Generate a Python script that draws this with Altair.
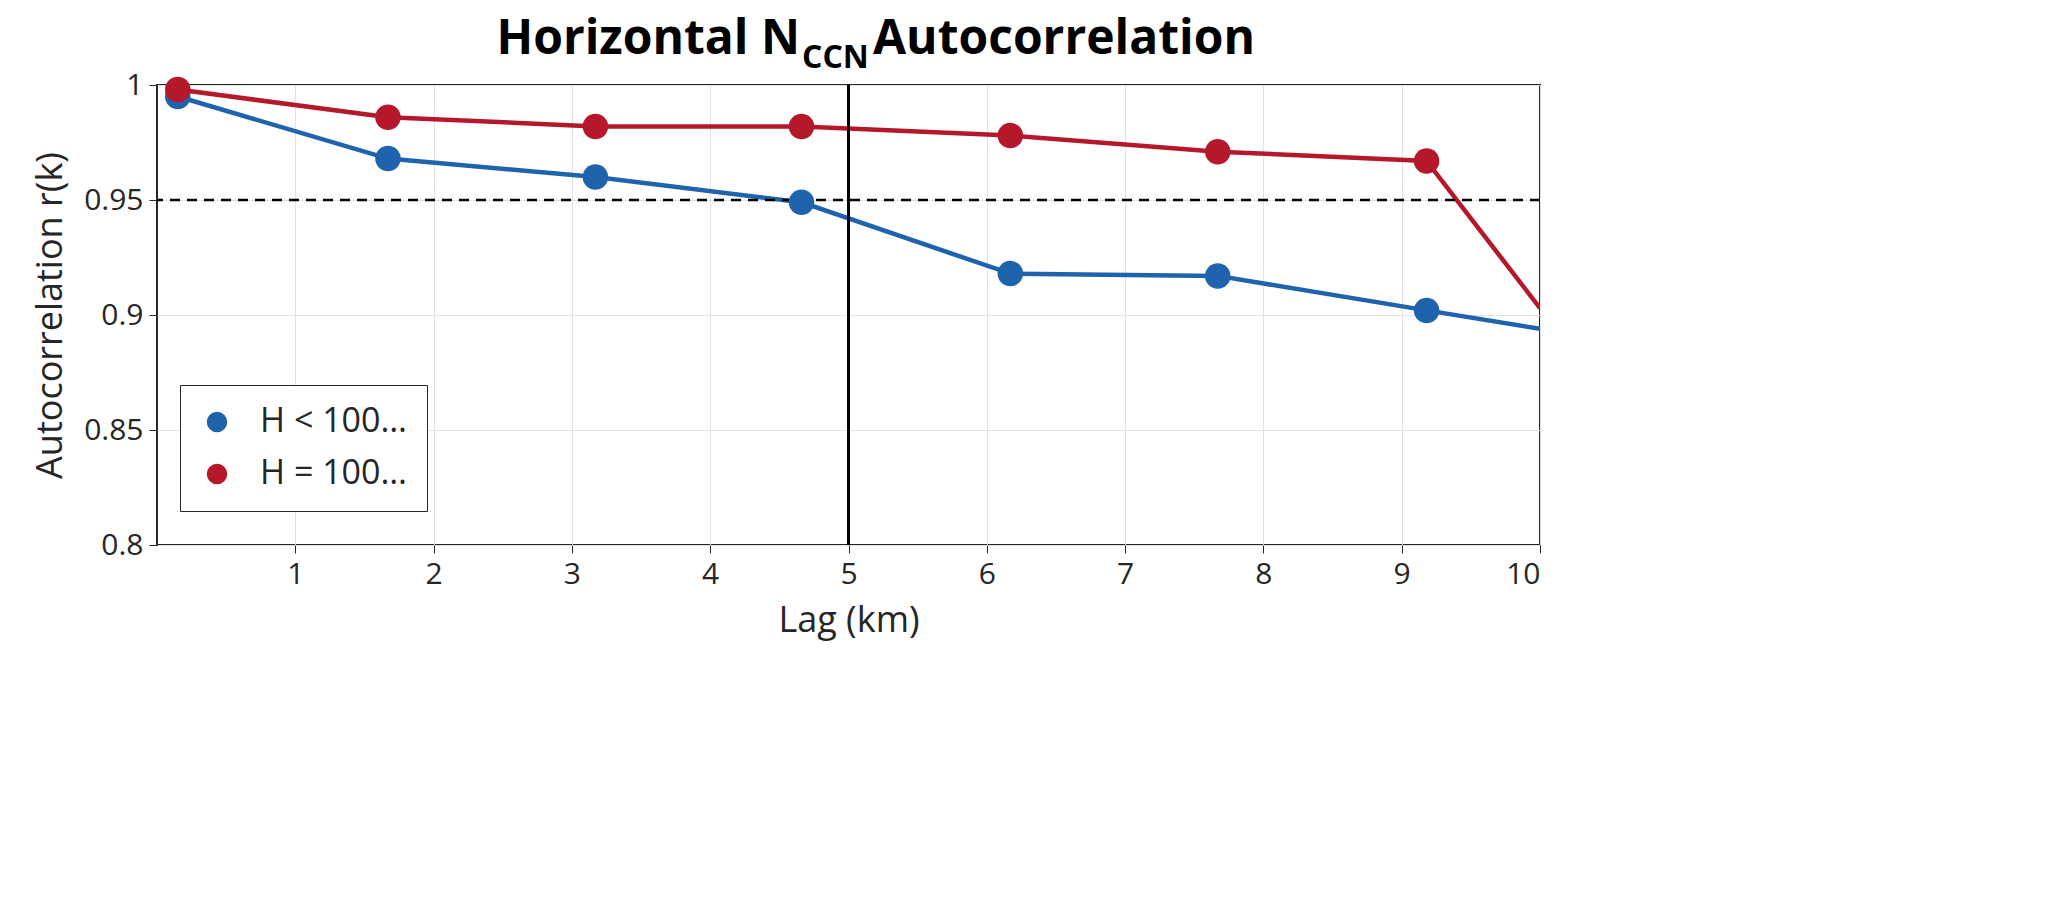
import altair as alt
import pandas as pd

lag_pts = [0.15, 1.67, 3.17, 4.66, 6.17, 7.67, 9.18]
blue_pts = [0.995, 0.968, 0.960, 0.949, 0.918, 0.917, 0.902]
red_pts = [0.998, 0.986, 0.982, 0.982, 0.978, 0.971, 0.967]
blue_end = 0.894
red_end = 0.903

names = ["H < 1000 m", "H = 1000-2000 m"]
colors = ["#1f63ad", "#b5182b"]

rows = []
for name, vals, end in [(names[0], blue_pts, blue_end), (names[1], red_pts, red_end)]:
    for i, (x, y) in enumerate(zip(lag_pts, vals)):
        rows.append({"lag": x, "r": y, "series": name, "marker": True, "o": i})
    rows.append({"lag": 10.0, "r": end, "series": name, "marker": False, "o": 99})
df = pd.DataFrame(rows)

font = "Open Sans"
xs = alt.Scale(domain=[0, 10], nice=False)
ys = alt.Scale(domain=[0.8, 1.0], nice=False)
cs = alt.Scale(domain=names, range=colors)
leg = alt.Legend(
    title=None, orient="bottom-left", symbolSize=420, labelFontSize=34,
    labelFont=font, labelColor="#262626", strokeColor="#262626", fillColor="white",
    padding=20, rowPadding=18, labelOffset=26, legendX=23, legendY=320,
    symbolType="circle", symbolStrokeWidth=0)
leg = alt.Legend(
    title=None, orient="none", legendX=23, legendY=300, symbolSize=420,
    labelFontSize=34, labelFont=font, labelColor="#262626", strokeColor="#262626",
    fillColor="white", padding=20, rowPadding=18, labelOffset=26,
    symbolType="circle", symbolStrokeWidth=0)

base = alt.Chart(df)
lines = base.mark_line(strokeWidth=4.5, clip=True).encode(
    x=alt.X("lag:Q", scale=xs, title="Lag (km)",
            axis=alt.Axis(values=list(range(1, 11)), format="d")),
    y=alt.Y("r:Q", scale=ys, title="Autocorrelation r(k)",
            axis=alt.Axis(values=[0.8, 0.85, 0.9, 0.95, 1.0], format="~g")),
    color=alt.Color("series:N", scale=cs, legend=leg),
    order="o:Q",
)
points = base.transform_filter("datum.marker").mark_circle(size=650, opacity=1).encode(
    x="lag:Q", y="r:Q",
    color=alt.Color("series:N", scale=cs, legend=leg),
)
hline = alt.Chart(pd.DataFrame({"y": [0.95]})).mark_rule(
    strokeDash=[10, 7], strokeWidth=2.5, color="black").encode(y=alt.Y("y:Q", scale=ys))
vline = alt.Chart(pd.DataFrame({"x": [5]})).mark_rule(
    strokeWidth=3, color="black").encode(x=alt.X("x:Q", scale=xs))

tdf = pd.DataFrame({"a": [0]})
t1 = alt.Chart(tdf).mark_text(text="Horizontal N", font=font, fontWeight="bold",
                              fontSize=48, align="right", baseline="middle").encode(
    x=alt.value(643), y=alt.value(-45))
t2 = alt.Chart(tdf).mark_text(text="CCN", font=font, fontWeight="bold",
                              fontSize=32, align="left", baseline="middle").encode(
    x=alt.value(645), y=alt.value(-27))
t3 = alt.Chart(tdf).mark_text(text="Autocorrelation", font=font, fontWeight="bold",
                              fontSize=48, align="left", baseline="middle").encode(
    x=alt.value(716), y=alt.value(-45))

chart = (
    alt.layer(lines, hline, vline, points, t1, t2, t3)
    .properties(width=1383, height=460, autosize="none",
                padding={"left": 149, "top": 77, "right": 2067 - 16 - 149 - 1383, "bottom": 906 - 16 - 77 - 460},
                background="white")
    .configure_view(stroke="#262626", strokeWidth=2)
    .configure_axis(labelFont=font, titleFont=font, labelFontSize=30, titleFontSize=36,
                    labelColor="#262626", titleColor="#262626", gridColor="#e3e3e3",
                    domain=False, tickColor="#262626", tickSize=8, ticks=True,
                    titleFontWeight="normal", labelPadding=6)
    .configure_axisY(titlePadding=14)
    .configure_axisX(titlePadding=14)
)
chart.save("out.html", embed_options={"renderer": "svg", "actions": False})
